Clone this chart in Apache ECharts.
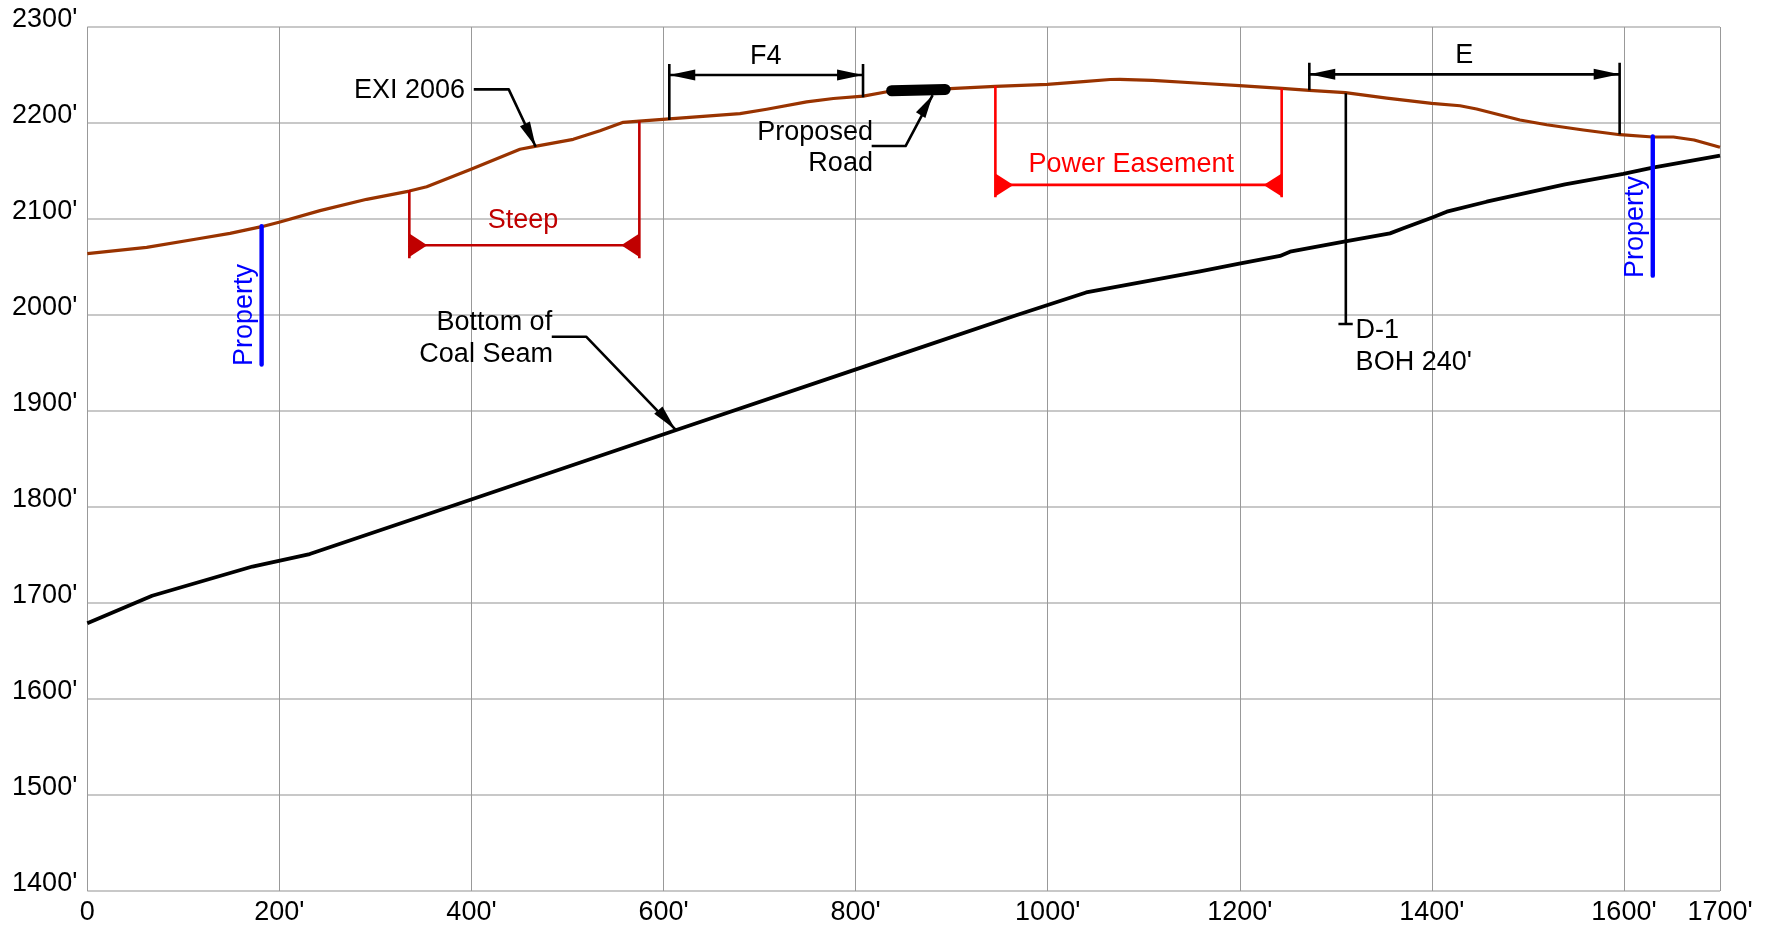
<!DOCTYPE html>
<html>
<head>
<meta charset="utf-8">
<style>html,body{margin:0;padding:0;background:#fff}#c{width:1765px;height:926px}</style>
<script src="https://cdn.jsdelivr.net/npm/echarts@6/dist/echarts.min.js"></script>
</head>
<body>
<div id="c"></div>
<script>
// Profile lines, [distance ft, elevation ft]
const surfaceProfile = [[0,2063.9],[61.8,2070.5],[113.9,2079.2],[148.6,2085],[181.5,2092],[200.6,2096.9],[242.3,2108.7],[290.9,2120.5],[335.3,2129.1],[353.4,2133.6],[400.2,2152],[450.5,2172.6],[466.1,2175.7],[506,2183],[533.8,2192],[558.1,2200.7],[574.8,2202],[606,2204.2],[679.6,2209.7],[707.4,2214.3],[749,2222],[776.8,2225.5],[808,2228],[832.7,2232.6],[898.3,2235.8],[945.5,2238.2],[999.6,2240.3],[1037,2243],[1065,2245.3],[1075,2245.4],[1109,2244.5],[1158.6,2241.4],[1199.5,2238.9],[1243.6,2236.1],[1272.4,2234],[1309.9,2231.6],[1353,2226],[1399.8,2220.5],[1429.3,2218],[1446.6,2214.6],[1491.7,2203.1],[1519.6,2198.2],[1557.7,2192.7],[1595.9,2187.8],[1630,2185.4],[1651.5,2185.4],[1673,2182.3],[1700,2174.7]];
const coalSeamProfile = [[0,1679],[67.5,1707.6],[172,1738],[231.6,1751],[399,1807.5],[612.5,1880],[845,1958.5],[968,2000],[1040,2023.5],[1158.6,2045.5],[1199.5,2053.5],[1241.9,2061.5],[1252.3,2066],[1309.9,2076.8],[1356.4,2085],[1370.3,2090.3],[1399.8,2101.4],[1415.5,2107.6],[1457,2118],[1538.6,2136],[1599.3,2146.9],[1630,2153.5],[1700,2166]];
// Annotation lines
const property1 = [[181.5,2092.5],[181.5,1948.5]];
const property2 = [[1630,2186],[1630,2041]];
const steepLines = [[335.3,2130],[335.3,2059],null,[574.8,2201.7],[574.8,2059],null,[335.3,2072.6],[574.8,2072.6]];
const easementLines = [[945.5,2238.5],[945.5,2122.6],null,[1243.6,2236],[1243.6,2122.6],null,[945.5,2135.5],[1243.6,2135.5]];
const f4Lines = [[606,2261.5],[606,2203],null,[807.7,2261.5],[807.7,2226.8],null,[606,2250],[807.7,2250]];
const eLines = [[1272.4,2262.8],[1272.4,2234],null,[1595.5,2262.8],[1595.5,2188.2],null,[1272.4,2250.7],[1595.5,2250.7]];
const d1Lines = [[1310.4,2231],[1310.4,1990.7],null,[1302.7,1990.7],[1317.6,1990.7]];
const exiLeader = [[402.4,2235],[438.8,2235],[466.9,2175.3]];
const seamLeader = [[483.6,1977.4],[519.4,1977.4],[612.5,1880.5]];
const roadLeader = [[816.7,2176],[852,2176],[880.2,2229]];
const proposedRoad = [[837.5,2233.7],[893.3,2235]];
// Arrow heads: tip x, tip y, base x, base y
const blackArrows = [[606,2250,633,2250],[807.7,2250,780.7,2250],[1272.4,2250.7,1299.4,2250.7],[1595.5,2250.7,1568.5,2250.7]];
const leaderArrows = [[466.9,2175.3,455.7,2199],[612.5,1880.5,594.6,1901],[880.2,2229,867.7,2208.3]];
const steepArrows = [[354,2072.6,335.3,2072.6],[556,2072.6,574.8,2072.6]];
const easementArrows = [[964.3,2135.5,945.5,2135.5],[1224.8,2135.5,1243.6,2135.5]];
// Texts: x, y, text, alignment
const blackTexts = [[335.5,2235,"EXI 2006","center"],[706.5,2270.8,"F4","center"],[1433.8,2271.9,"E","center"],[818,2191.9,"Proposed","right"],[818,2158.9,"Road","right"],[484,1993.8,"Bottom of","right"],[484.8,1960,"Coal Seam","right"],[1320.6,1985.4,"D-1","left"],[1320.6,1952,"BOH 240'","left"]];
const steepTexts = [[453.7,2100,"Steep","center"]];
const easementTexts = [[1087,2158,"Power Easement","center"]];
const propertyTexts = [[161,2000,"Property","center"],[1609,2091.7,"Property","center"]];

const FONT = '"Liberation Sans", Arial, sans-serif';
const FS = 27;

function line(data, color, width, cap) {
  return {type:'line', data:data, showSymbol:false, symbol:'none', silent:true, animation:false, connectNulls:false, clip:false,
    lineStyle:{color:color, width:width, cap:cap||'butt', join:'round'}, z:3};
}
function arrows(data, color, half) {
  return {type:'custom', data:data, silent:true, animation:false, clip:false, z:4,
    encode:{x:[0,2], y:[1,3]},
    renderItem:function(p, api){
      const t = api.coord([api.value(0), api.value(1)]);
      const b = api.coord([api.value(2), api.value(3)]);
      const dx = b[0]-t[0], dy = b[1]-t[1], l = Math.hypot(dx,dy)||1;
      const nx = -dy/l*half, ny = dx/l*half;
      return {type:'polygon', shape:{points:[t,[b[0]+nx,b[1]+ny],[b[0]-nx,b[1]-ny]]}, style:{fill:color}};
    }};
}
function texts(data, color, rotated) {
  return {type:'custom', data:data.map(d=>[d[0],d[1]]), silent:true, animation:false, clip:false, z:5,
    encode:{x:0, y:1},
    renderItem:function(p, api){
      const c = api.coord([api.value(0), api.value(1)]);
      const d = data[p.dataIndex];
      return {type:'text', x:c[0]+(rotated?3:0), y:c[1]+(rotated?0:1.5), rotation:rotated?Math.PI/2:0,
        style:{text:d[2], fill:color, font:FS+'px '+FONT, align:d[3], verticalAlign:'middle'}};
    }};
}

const chart = echarts.init(document.getElementById('c'));
chart.setOption({
  animation:false,
  backgroundColor:'#fff',
  grid:{left:87.3, right:45, top:27, bottom:35, containLabel:false},
  xAxis:{type:'value', min:0, max:1700, interval:200,
    axisLine:{show:false}, axisTick:{show:false},
    splitLine:{show:true, lineStyle:{color:'#999999', width:1}},
    axisLabel:{color:'#000', fontFamily:FONT, fontSize:FS, margin:8,
      formatter:v=>v===0?'0':v+"'", showMinLabel:true, showMaxLabel:true, hideOverlap:false}},
  yAxis:{type:'value', min:1400, max:2300, interval:100,
    axisLine:{show:false}, axisTick:{show:false},
    splitLine:{show:true, lineStyle:{color:'#c8c8c8', width:2}},
    axisLabel:{color:'#000', fontFamily:FONT, fontSize:FS, margin:10, verticalAlign:'bottom', padding:[0,0,-6,0],
      formatter:v=>v+"'", showMinLabel:true, showMaxLabel:true}},
  series:[
    line(surfaceProfile,'#993300',3.2),
    line(coalSeamProfile,'#000',3.8),
    line(d1Lines,'#000',2.6),
    line(f4Lines,'#000',2.6),
    line(eLines,'#000',2.6),
    line(exiLeader,'#000',2.6),
    line(seamLeader,'#000',2.6),
    line(roadLeader,'#000',2.6),
    line(proposedRoad,'#000',11,'round'),
    line(steepLines,'#c00000',2.6),
    line(easementLines,'#ff0000',2.6),
    line(property1,'#0000ff',4.4,'round'),
    line(property2,'#0000ff',4.4,'round'),
    arrows(blackArrows,'#000',5.5),
    arrows(leaderArrows,'#000',5.5),
    arrows(steepArrows,'#c00000',11.7),
    arrows(easementArrows,'#ff0000',11.5),
    texts(blackTexts,'#000'),
    texts(steepTexts,'#c00000'),
    texts(easementTexts,'#ff0000'),
    texts(propertyTexts,'#0000ff',true)
  ]
});
</script>
</body>
</html>
